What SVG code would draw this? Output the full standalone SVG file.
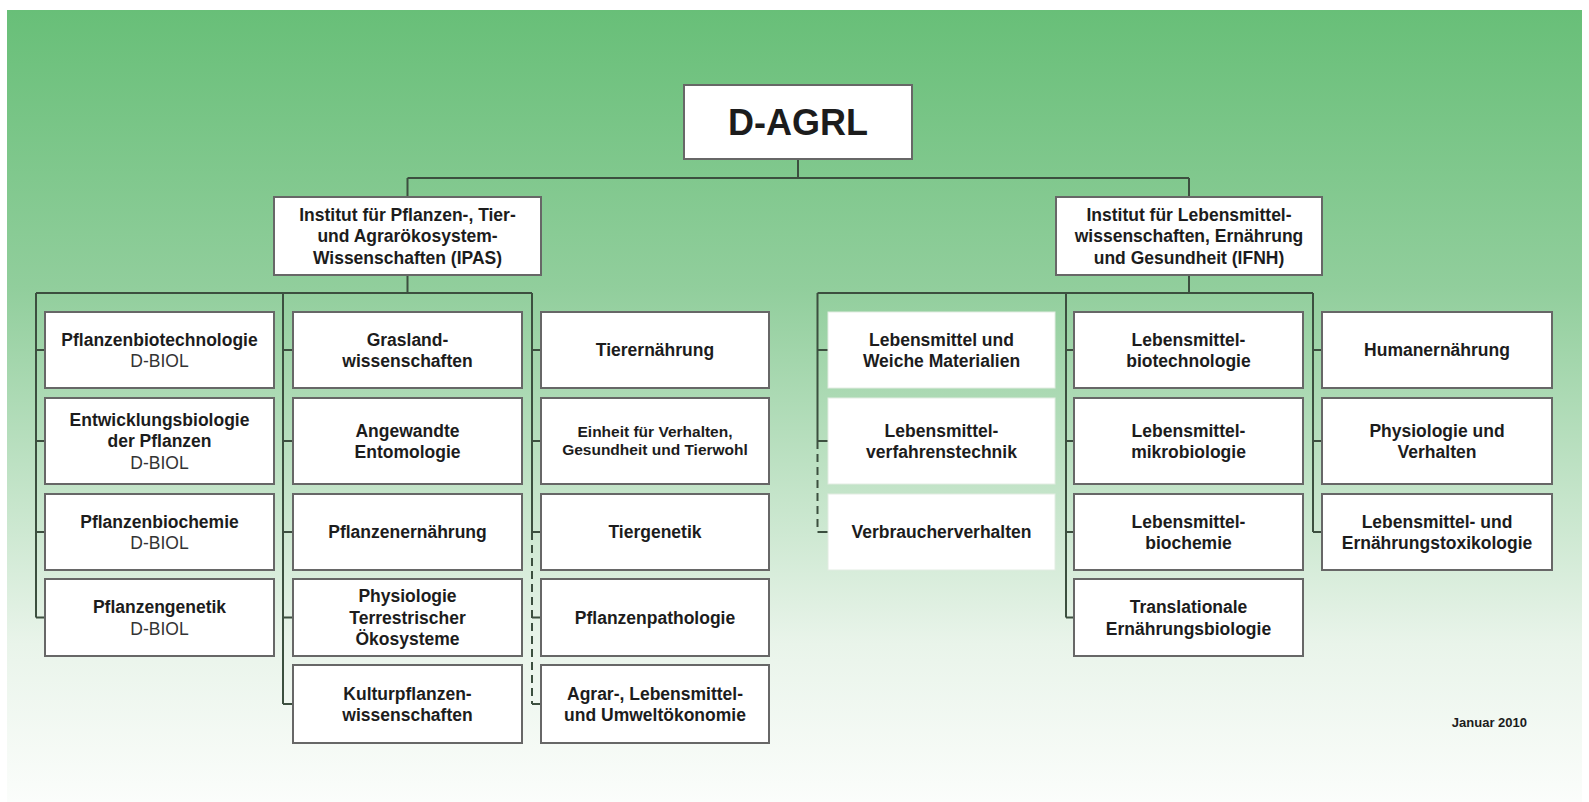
<svg xmlns="http://www.w3.org/2000/svg" width="1589" height="802" viewBox="0 0 1589 802">
<defs>
<linearGradient id="bg" x1="0" y1="0" x2="0" y2="1">
<stop offset="0" stop-color="#68bf78"/>
<stop offset="0.35" stop-color="#91ce9c"/>
<stop offset="0.62" stop-color="#c6e5cb"/>
<stop offset="0.8" stop-color="#e9f4ea"/>
<stop offset="1" stop-color="#fbfdfb"/>
</linearGradient>
<style>
.box{fill:#fff;stroke:#676767;stroke-width:2}
.box2{fill:#fff;stroke:#e2ece2;stroke-width:1}
.t{font-family:"Liberation Sans",Arial,Helvetica,sans-serif;font-weight:bold;font-size:17.5px;fill:#1c1c1c;text-anchor:middle}
.r{font-weight:normal;fill:#333}
.s{font-size:15.5px}
.c{stroke:#3c4f3f;stroke-width:2;fill:none}
.d{stroke-dasharray:8 5}
</style>
</defs>
<rect x="0" y="0" width="1589" height="802" fill="#ffffff"/>
<rect x="7" y="10" width="1575" height="792" fill="url(#bg)"/>

<g id="connectors">
<path class="c" d="M798 159V178M407.5 178H1189M407.5 178V197M1189 178V197"/>
<path class="c" d="M407.5 275V293M36 293H532M36 293V617.5M36 350H45M36 441H45M36 532H45M36 617.5H45"/>
<path class="c" d="M283 293V704M283 350H293M283 441H293M283 532H293M283 617.5H293M283 704H293"/>
<path class="c" d="M532 293V532M532 350H541M532 441H541M532 532H541M532 617.5H541M532 704H541"/>
<path class="c d" d="M532 532V704"/>
<path class="c" d="M1189 275V293M817.5 293H1313M817.5 293V441M817.5 350H828M817.5 441H828M817.5 532H828"/>
<path class="c d" d="M817.5 441V532"/>
<path class="c" d="M1066 293V617.5M1066 350H1074M1066 441H1074M1066 532H1074M1066 617.5H1074"/>
<path class="c" d="M1313 293V532M1313 350H1322M1313 441H1322M1313 532H1322"/>
</g>

<g id="n-dagrl"><rect class="box" x="684" y="85" width="228" height="74"/><text class="t" x="798" y="135" style="font-size:36px">D-AGRL</text></g>

<g id="n-ipas"><rect class="box" x="274" y="197" width="267" height="78"/>
<text class="t" x="407.5" y="220.5">Institut für Pflanzen-, Tier-</text>
<text class="t" x="407.5" y="242">und Agrarökosystem-</text>
<text class="t" x="407.5" y="263.5">Wissenschaften (IPAS)</text></g>

<g id="n-ifnh"><rect class="box" x="1056" y="197" width="266" height="78"/>
<text class="t" x="1189" y="220.5">Institut für Lebensmittel-</text>
<text class="t" x="1189" y="242">wissenschaften, Ernährung</text>
<text class="t" x="1189" y="263.5">und Gesundheit (IFNH)</text></g>

<!-- Column 1 -->
<g id="n-pflbiotech"><rect class="box" x="45" y="312" width="229" height="76"/>
<text class="t" x="159.5" y="345.5">Pflanzenbiotechnologie</text><text class="t r" x="159.5" y="367">D-BIOL</text></g>
<g id="n-entwbio"><rect class="box" x="45" y="398" width="229" height="86"/>
<text class="t" x="159.5" y="425.75">Entwicklungsbiologie</text><text class="t" x="159.5" y="447.25">der Pflanzen</text><text class="t r" x="159.5" y="468.75">D-BIOL</text></g>
<g id="n-pflbiochem"><rect class="box" x="45" y="494" width="229" height="76"/>
<text class="t" x="159.5" y="527.5">Pflanzenbiochemie</text><text class="t r" x="159.5" y="549">D-BIOL</text></g>
<g id="n-pflgen"><rect class="box" x="45" y="579" width="229" height="77"/>
<text class="t" x="159.5" y="613">Pflanzengenetik</text><text class="t r" x="159.5" y="634.5">D-BIOL</text></g>

<!-- Column 2 -->
<g id="n-grasland"><rect class="box" x="293" y="312" width="229" height="76"/>
<text class="t" x="407.5" y="345.5">Grasland-</text><text class="t" x="407.5" y="367">wissenschaften</text></g>
<g id="n-entomo"><rect class="box" x="293" y="398" width="229" height="86"/>
<text class="t" x="407.5" y="436.5">Angewandte</text><text class="t" x="407.5" y="458">Entomologie</text></g>
<g id="n-pflern"><rect class="box" x="293" y="494" width="229" height="76"/>
<text class="t" x="407.5" y="538">Pflanzenernährung</text></g>
<g id="n-physterr"><rect class="box" x="293" y="579" width="229" height="77"/>
<text class="t" x="407.5" y="602.25">Physiologie</text><text class="t" x="407.5" y="623.75">Terrestrischer</text><text class="t" x="407.5" y="645.25">Ökosysteme</text></g>
<g id="n-kultur"><rect class="box" x="293" y="665" width="229" height="78"/>
<text class="t" x="407.5" y="699.5">Kulturpflanzen-</text><text class="t" x="407.5" y="721">wissenschaften</text></g>

<!-- Column 3 -->
<g id="n-tierern"><rect class="box" x="541" y="312" width="228" height="76"/>
<text class="t" x="655" y="356">Tierernährung</text></g>
<g id="n-einheit"><rect class="box" x="541" y="398" width="228" height="86"/>
<text class="t s" x="655" y="436.5">Einheit für Verhalten,</text><text class="t s" x="655" y="454.5">Gesundheit und Tierwohl</text></g>
<g id="n-tiergen"><rect class="box" x="541" y="494" width="228" height="76"/>
<text class="t" x="655" y="538">Tiergenetik</text></g>
<g id="n-pflpath"><rect class="box" x="541" y="579" width="228" height="77"/>
<text class="t" x="655" y="623.75">Pflanzenpathologie</text></g>
<g id="n-agrar"><rect class="box" x="541" y="665" width="228" height="78"/>
<text class="t" x="655" y="699.5">Agrar-, Lebensmittel-</text><text class="t" x="655" y="721">und Umweltökonomie</text></g>

<!-- Column 4 -->
<g id="n-weiche"><rect class="box2" x="828" y="312" width="227" height="76"/>
<text class="t" x="941.5" y="345.5">Lebensmittel und</text><text class="t" x="941.5" y="367">Weiche Materialien</text></g>
<g id="n-verfahren"><rect class="box2" x="828" y="398" width="227" height="86"/>
<text class="t" x="941.5" y="436.5">Lebensmittel-</text><text class="t" x="941.5" y="458">verfahrenstechnik</text></g>
<g id="n-verbraucher"><rect class="box2" x="828" y="494" width="227" height="76"/>
<text class="t" x="941.5" y="538">Verbraucherverhalten</text></g>

<!-- Column 5 -->
<g id="n-lmbiotech"><rect class="box" x="1074" y="312" width="229" height="76"/>
<text class="t" x="1188.5" y="345.5">Lebensmittel-</text><text class="t" x="1188.5" y="367">biotechnologie</text></g>
<g id="n-lmmikro"><rect class="box" x="1074" y="398" width="229" height="86"/>
<text class="t" x="1188.5" y="436.5">Lebensmittel-</text><text class="t" x="1188.5" y="458">mikrobiologie</text></g>
<g id="n-lmbiochem"><rect class="box" x="1074" y="494" width="229" height="76"/>
<text class="t" x="1188.5" y="527.5">Lebensmittel-</text><text class="t" x="1188.5" y="549">biochemie</text></g>
<g id="n-transl"><rect class="box" x="1074" y="579" width="229" height="77"/>
<text class="t" x="1188.5" y="613">Translationale</text><text class="t" x="1188.5" y="634.5">Ernährungsbiologie</text></g>

<!-- Column 6 -->
<g id="n-human"><rect class="box" x="1322" y="312" width="230" height="76"/>
<text class="t" x="1437" y="356">Humanernährung</text></g>
<g id="n-physverh"><rect class="box" x="1322" y="398" width="230" height="86"/>
<text class="t" x="1437" y="436.5">Physiologie und</text><text class="t" x="1437" y="458">Verhalten</text></g>
<g id="n-toxi"><rect class="box" x="1322" y="494" width="230" height="76"/>
<text class="t" x="1437" y="527.5">Lebensmittel- und</text><text class="t" x="1437" y="549">Ernährungstoxikologie</text></g>

<g id="date"><text class="t" x="1527" y="727" style="font-size:13px;text-anchor:end">Januar 2010</text></g>
</svg>
